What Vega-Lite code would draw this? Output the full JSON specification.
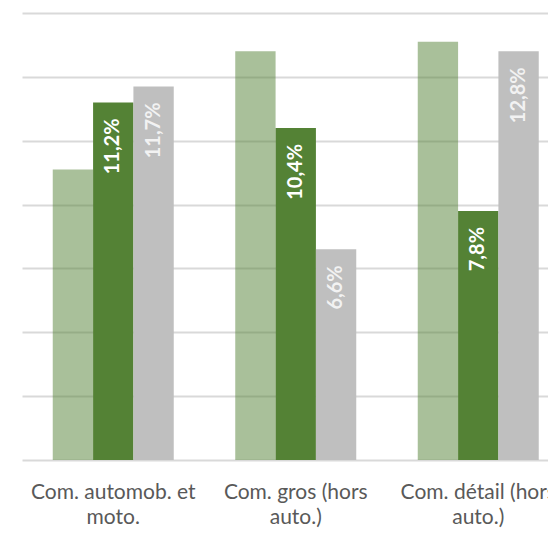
{
  "$schema": "https://vega.github.io/schema/vega-lite/v6.json",
  "width": 526,
  "height": 447,
  "autosize": {"type": "none"},
  "padding": {"left": 22, "top": 13, "right": 0, "bottom": 73},
  "background": "white",
  "config": {"view": {"stroke": null}},
  "data": {
    "values": [
      {"secteur": "Com. automob. et moto.", "serie": "S1", "valeur": 9.1},
      {"secteur": "Com. automob. et moto.", "serie": "S2", "valeur": 11.2},
      {"secteur": "Com. automob. et moto.", "serie": "S3", "valeur": 11.7},
      {"secteur": "Com. gros (hors auto.)", "serie": "S1", "valeur": 12.8},
      {"secteur": "Com. gros (hors auto.)", "serie": "S2", "valeur": 10.4},
      {"secteur": "Com. gros (hors auto.)", "serie": "S3", "valeur": 6.6},
      {"secteur": "Com. détail (hors auto.)", "serie": "S1", "valeur": 13.1},
      {"secteur": "Com. détail (hors auto.)", "serie": "S2", "valeur": 7.8},
      {"secteur": "Com. détail (hors auto.)", "serie": "S3", "valeur": 12.8}
    ]
  },
  "encoding": {
    "x": {
      "field": "secteur",
      "type": "nominal",
      "sort": null,
      "scale": {"range": [0, 547.5], "paddingInner": 0.337, "paddingOuter": 0.1685},
      "axis": {
        "title": null,
        "labelAngle": 0,
        "domain": false,
        "ticks": false,
        "labelFont": "Lato",
        "labelFontSize": 21,
        "labelColor": "#595959",
        "labelPadding": 21,
        "labelLineHeight": 25,
        "labelBaseline": "top",
        "labelLimit": 0,
        "labelExpr": "datum.value == 'Com. automob. et moto.' ? ['Com. automob. et', 'moto.'] : datum.value == 'Com. gros (hors auto.)' ? ['Com. gros (hors', 'auto.)'] : ['Com. détail (hors', 'auto.)']"
      }
    },
    "xOffset": {"field": "serie", "type": "nominal", "scale": {"paddingInner": 0, "paddingOuter": 0}},
    "y": {
      "field": "valeur",
      "type": "quantitative",
      "scale": {"domain": [0, 14]},
      "axis": {
        "title": null,
        "labels": false,
        "ticks": false,
        "domain": false,
        "grid": true,
        "gridColor": "#d9d9d9",
        "gridWidth": 2,
        "values": [0, 2, 4, 6, 8, 10, 12, 14]
      }
    }
  },
  "layer": [
    {
      "mark": {"type": "bar"},
      "encoding": {
        "color": {
          "field": "serie",
          "type": "nominal",
          "scale": {"domain": ["S1", "S2", "S3"], "range": ["#548235", "#548235", "#bfbfbf"]},
          "legend": null
        },
        "opacity": {
          "condition": {"test": "datum.serie == 'S1'", "value": 0.5},
          "value": 1
        }
      }
    },
    {
      "transform": [
        {"filter": "datum.serie != 'S1'"},
        {"calculate": "replace(format(datum.valeur, '.1f'), '.', ',') + '%'", "as": "etiquette"}
      ],
      "mark": {
        "type": "text",
        "angle": 270,
        "align": "right",
        "baseline": "middle",
        "dx": -16,
        "font": "Lato",
        "fontSize": 20,
        "fontWeight": "bold"
      },
      "encoding": {
        "text": {"field": "etiquette", "type": "nominal"},
        "color": {
          "field": "serie",
          "type": "nominal",
          "scale": {"domain": ["S2", "S3"], "range": ["#ffffff", "#f2f2f2"]},
          "legend": null
        }
      }
    }
  ],
  "resolve": {"scale": {"color": "independent"}}
}
